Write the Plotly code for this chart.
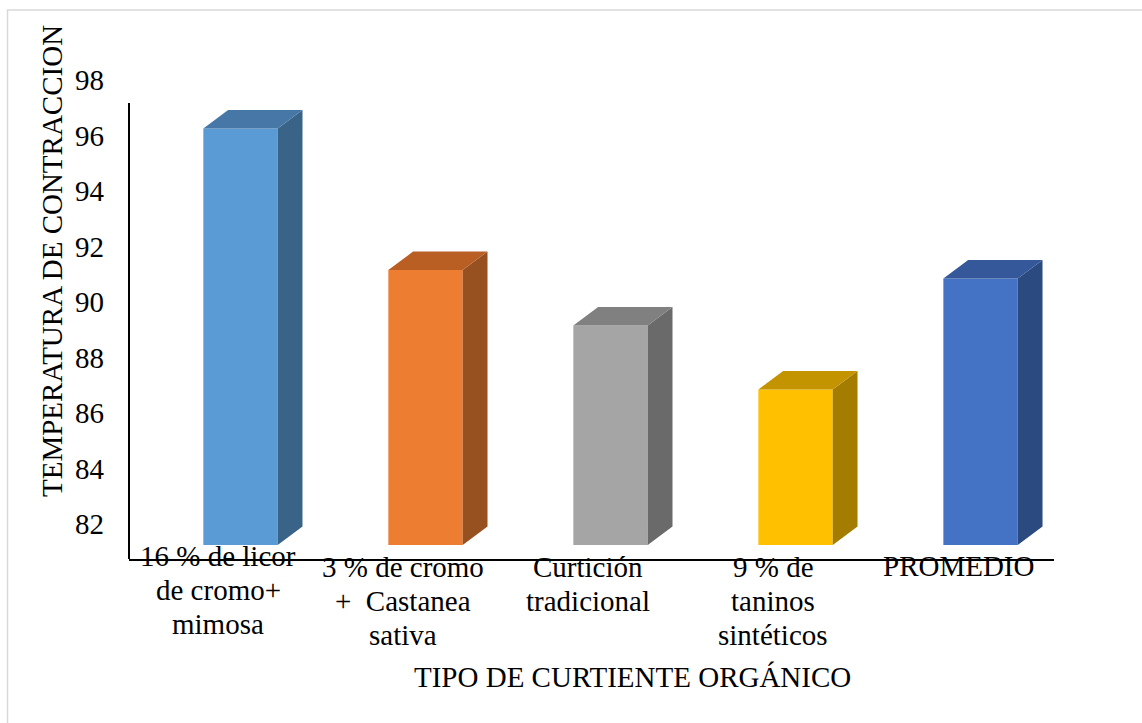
import plotly.graph_objects as go

# ---- data ----
categories = ["16 % de licor<br>de cromo+<br>mimosa",
              "3 % de cromo<br>+  Castanea<br>sativa",
              "Curtición<br>tradicional",
              "9 % de<br>taninos<br>sintéticos",
              "PROMEDIO"]
values = [96.25, 91.15, 89.15, 86.85, 90.85]
front_colors = ["#5B9BD5", "#ED7D31", "#A5A5A5", "#FFC000", "#4472C4"]
top_colors = ["#4677A6", "#B95F24", "#808080", "#C49400", "#345899"]
side_colors = ["#3A6388", "#97501F", "#6A6A6A", "#A37C00", "#2B4A80"]
y_ticks = [82, 84, 86, 88, 90, 92, 94, 96, 98]
y_title = "TEMPERATURA DE CONTRACCION"
x_title = "TIPO DE CURTIENTE ORGÁNICO"

# ---- geometry / style ----
W, H = 1142, 723
ml, mr, mt, mb = 129, 88, 60, 164
plot_w = W - ml - mr
plot_h = H - mt - mb
yr = [80.739, 98.72]
xr = [-0.6027, 4.397]
base = 81.243
bw = 0.402
dx = 0.134
dy = 0.667
FONT = "Liberation Serif"
FS = 29


def px_to_paper_x(px):
    return (px - ml) / plot_w


def px_to_paper_y(py):
    return (H - mb - py) / plot_h


fig = go.Figure()
for i, v in enumerate(values):
    # front face
    fig.add_trace(go.Bar(x=[i], y=[v - base], base=[base], width=bw,
                         marker=dict(color=front_colors[i], line=dict(width=0)),
                         showlegend=False, hoverinfo="skip"))
    # side face
    xs = [i + bw / 2, i + bw / 2, i + bw / 2 + dx, i + bw / 2 + dx, i + bw / 2]
    ys = [base, v, v + dy, base + dy, base]
    fig.add_trace(go.Scatter(x=xs, y=ys, fill="toself", mode="lines",
                             line=dict(width=0, color=side_colors[i]),
                             fillcolor=side_colors[i], showlegend=False,
                             hoverinfo="skip"))
    # top face
    xs = [i - bw / 2, i - bw / 2 + dx, i + bw / 2 + dx, i + bw / 2, i - bw / 2]
    ys = [v, v + dy, v + dy, v, v]
    fig.add_trace(go.Scatter(x=xs, y=ys, fill="toself", mode="lines",
                             line=dict(width=0, color=top_colors[i]),
                             fillcolor=top_colors[i], showlegend=False,
                             hoverinfo="skip"))

annotations = []
first_line_center = [556, 567, 567, 567, 566]
line_step = 34
for i, c in enumerate(categories):
    for j, line in enumerate(c.split("<br>")):
        annotations.append(dict(x=i - 0.12, xref="x",
                                y=px_to_paper_y(first_line_center[i] + j * line_step),
                                yref="paper", yanchor="middle", xanchor="center",
                                text=line, showarrow=False,
                                font=dict(family=FONT, size=FS, color="black")))
annotations.append(dict(x=px_to_paper_x(632), xref="paper", y=px_to_paper_y(677),
                        yref="paper", xanchor="center", yanchor="middle",
                        text=x_title, showarrow=False,
                        font=dict(family=FONT, size=FS, color="black")))
annotations.append(dict(x=px_to_paper_x(52), xref="paper", y=px_to_paper_y(261),
                        yref="paper", xanchor="center", yanchor="middle",
                        text=y_title, textangle=-90, showarrow=False,
                        font=dict(family=FONT, size=FS, color="black")))

shapes = [
    # y axis line (partial)
    dict(type="line", xref="paper", yref="y", x0=0, x1=0, y0=yr[0], y1=97.17,
         line=dict(color="black", width=2)),
    # chart border
    dict(type="rect", xref="paper", yref="paper",
         x0=px_to_paper_x(7.5), x1=px_to_paper_x(1160),
         y0=px_to_paper_y(740), y1=px_to_paper_y(10),
         line=dict(color="#D9D9D9", width=1.5), fillcolor="rgba(0,0,0,0)"),
]

fig.update_layout(
    width=W, height=H,
    margin=dict(l=ml, r=mr, t=mt, b=mb),
    paper_bgcolor="white", plot_bgcolor="white",
    barmode="overlay",
    font=dict(family=FONT, size=FS, color="black"),
    xaxis=dict(range=xr, showgrid=False, zeroline=False, showticklabels=False,
               showline=True, linecolor="black", linewidth=2, ticks=""),
    yaxis=dict(range=yr, showgrid=False, zeroline=False, showline=False,
               tickvals=y_ticks, ticktext=[str(t) for t in y_ticks],
               tickfont=dict(family=FONT, size=FS, color="black"),
               ticks="", ticklabelstandoff=24),
    annotations=annotations,
    shapes=shapes,
)

fig.write_html("out.html")
